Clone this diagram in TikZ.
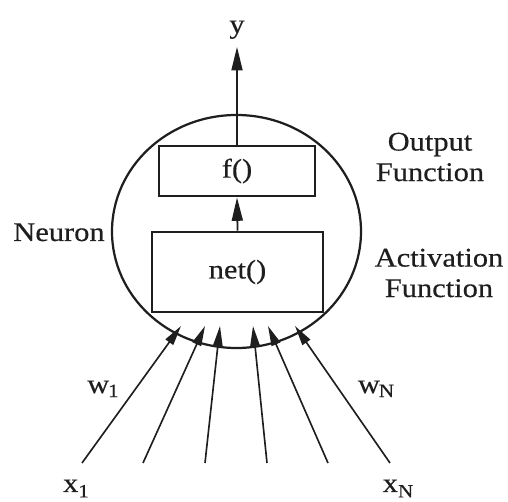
\documentclass[tikz,border=0pt]{standalone}
\usepackage{fontspec}
\setmainfont[FakeStretch=1.13,FakeBold=0.4]{Liberation Serif}
\usetikzlibrary{arrows.meta,positioning,shapes.geometric}
\definecolor{ink}{RGB}{30,30,30}
\tikzset{
  >={Triangle[length=7mm,width=3.3mm]},
  cell/.style={ellipse,draw=ink,line width=1.9pt,minimum width=7.47cm,
    minimum height=6.99cm,inner sep=0pt},
  unit/.style={draw=ink,line width=2.5pt,align=center,text=ink,
    font=\fontsize{23}{26}\selectfont},
  lbl/.style={font=\fontsize{23}{26}\selectfont,text=ink,align=center,inner sep=0pt},
  sig/.style={->,draw=ink,line width=1.5pt},
  wire/.style={-{Triangle[length=6mm,width=2.8mm]},draw=ink,line width=1.4pt},
}
\newcommand{\lowsub}[2][-0.3em]{\raisebox{#1}{\fontsize{16}{16}\selectfont #2}}

\begin{document}
\begin{tikzpicture}[x=0.3mm,y=-0.3mm]
  \useasboundingbox (0,0) rectangle (508,502);
  % the neuron and its two stages
  \node[cell] (neuron) at (236.5,231.5) {};
  \node[unit,minimum width=4.68cm,minimum height=1.5cm] (fn) at (237,171) {f()};
  \node[unit,minimum width=5.13cm,minimum height=2.4cm] (net) at (237.5,272) {net()};
  \draw[sig] (net.north) -- (fn.south);
  % output
  \node[lbl,anchor=base] (yout) at (237,33) {y};
  \coordinate (ytip) at (237,47);
  \draw[sig] (fn.north) -- (ytip);
  % weighted inputs
  \foreach \bx/\tx [count=\i] in {82/181,143/205,205/220,267/253,328/268,390/295}
  {
    \coordinate (src\i) at (\bx,463);
    \coordinate (tip\i) at (\tx,326);
    \draw[wire] (src\i) -- (tip\i);
  }
  \node[lbl,anchor=base] (x1) at (76,492) {x\lowsub[-0.2em]{1}};
  \node[lbl,anchor=base] (xN) at (398,492) {x\lowsub[-0.2em]{N}};
  \node[lbl,anchor=base] (w1) at (103,393) {w\kern-1pt\lowsub[-0.15em]{1}};
  \node[lbl,anchor=base] (wN) at (376,393) {w\kern-1pt\lowsub[-0.15em]{N}};
  % side labels
  \node[lbl,anchor=base] (neulab) at (59,241) {Neuron};
  \node[lbl] (outlab) at (430,157) {Output\\Function};
  \node[lbl] (actlab) at (439,273) {Activation\\Function};
\end{tikzpicture}
\end{document}
